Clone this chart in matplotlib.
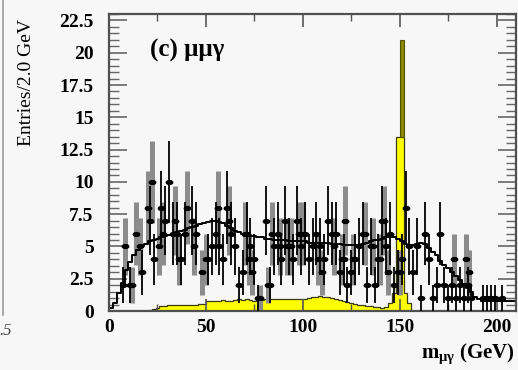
import numpy as np
import matplotlib
matplotlib.use("Agg")
import matplotlib.pyplot as plt
from matplotlib.lines import Line2D
from matplotlib.path import Path
from matplotlib.ticker import FuncFormatter, MultipleLocator
from matplotlib.transforms import Affine2D

plt.rcParams["mathtext.fontset"] = "custom"
plt.rcParams["mathtext.rm"] = "Liberation Serif:bold"
plt.rcParams["mathtext.it"] = "Liberation Serif:bold"

BG = "#f7f7f7"
SERIF = "Liberation Serif"

# 2 GeV bins from 0 to 210 GeV
edges = np.arange(0, 212, 2)
centers = edges[:-1] + 1

# data, first set (thin black error bars)
black_x = [7, 11, 17, 21, 23, 27, 29, 31, 33, 35, 37, 39, 43, 45, 51, 53, 55, 57,
           59, 61, 63, 65, 67, 69, 71, 73, 75, 77, 81, 83, 85, 87, 89, 91, 93, 95,
           97, 99, 101, 103, 105, 107, 109, 111, 113, 115, 117, 119, 121, 123, 125,
           127, 129, 131, 133, 135, 137, 139, 141, 143, 145, 147, 149, 151, 153,
           155, 157, 159, 161, 163, 165, 167, 169, 171, 173, 175, 177, 179, 181,
           183, 185, 187, 193, 195, 197, 199, 203]
black_n = [2, 2, 3, 7, 4, 8, 7, 10, 6, 6, 4, 6, 7, 6, 4, 5, 6, 5,
           4, 8, 6, 5, 2, 3, 6, 5, 4, 1, 7, 2, 5, 6, 4, 7, 5, 4,
           7, 5, 6, 4, 5, 6, 5, 4, 7, 6, 6, 3, 4, 2, 3,
           4, 5, 6, 2, 5, 2, 4, 7, 5, 6, 2, 3, 4, 8,
           5, 3, 5, 1, 6, 4, 1, 2, 6, 2, 1, 2, 1, 2,
           1, 2, 1, 1, 1, 1, 1, 1]

# data, second set (broad grey error bars)
gray_x = [8, 12, 14, 16, 20, 22, 26, 28, 34, 36, 40, 44, 48, 50, 56, 62, 70, 72,
          74, 78, 82, 84, 88, 92, 94, 98, 100, 108, 110, 116, 120, 122, 126, 132,
          136, 140, 142, 144, 150, 178, 184, 186]
gray_n = [5, 2, 6, 5, 8, 10, 5, 6, 7, 4, 8, 5, 3, 4, 8, 7, 6, 4,
          3, 1, 2, 6, 5, 5, 5, 6, 6, 4, 3, 5, 4, 7, 4, 6,
          5, 4, 7, 3, 3, 4, 4, 3]

# background fit per bin
fit = [0.2, 0.6, 1.4, 2.2, 3.2, 3.8, 4.3, 4.7, 5.0, 5.2, 5.4, 5.5, 5.6, 5.7, 5.8,
       5.9, 6.0, 6.1, 6.2, 6.3, 6.4, 6.5, 6.6, 6.7, 6.8, 6.9, 7.0, 7.0, 6.9, 6.8,
       6.6, 6.4, 6.2, 6.1, 6.0, 5.9, 5.8, 5.8, 5.7, 5.7, 5.6, 5.6, 5.5, 5.5, 5.5,
       5.5, 5.4, 5.4, 5.4, 5.4, 5.4, 5.3, 5.3, 5.3, 5.3, 5.3, 5.3, 5.2, 5.2, 5.2,
       5.1, 5.1, 5.1, 5.1, 5.1, 5.2, 5.3, 5.4, 5.5, 5.5, 5.6, 5.7, 5.7, 5.7, 5.6,
       5.4, 5.2, 5.1, 5.1, 5.2, 5.3, 5.2, 4.9, 4.6, 4.3, 3.9, 3.6, 3.3, 3.0, 2.7,
       2.4, 2.1, 1.8, 1.5, 1.1, 0.9, 0.8, 0.8, 0.8, 0.8, 0.8, 0.8, 0.8, 0.8, 0.8]

# signal expectation per bin
signal = [0, 0, 0, 0, 0, 0, 0, 0, 0, 0, 0.05, 0.15, 0.2, 0.35, 0.4,
          0.45, 0.45, 0.5, 0.5, 0.45, 0.5, 0.5, 0.5, 0.55, 0.55, 0.8, 0.75, 0.8, 0.8, 0.85,
          0.8, 0.8, 0.85, 0.9, 0.85, 0.9, 0.85, 0.8, 0.9, 0.85, 0.9, 0.95, 0.9, 0.9, 0.95,
          0.9, 0.95, 0.9, 0.9, 0.95, 0.95, 1.0, 1.05, 1.1, 1.15, 1.1, 1.1, 1.0, 0.95, 0.85,
          0.8, 0.7, 0.6, 0.55, 0.5, 0.45, 0.4, 0.35, 0.3, 0.3, 0.25, 0.3, 0.6, 1.4, 13.5,
          13.5, 1.4, 0.6, 0, 0, 0, 0, 0, 0, 0, 0, 0, 0, 0, 0,
          0, 0, 0, 0, 0, 0, 0, 0, 0, 0, 0, 0, 0, 0, 0]
peak_bin = (150, 152)
peak_top = 21.0

fig = plt.figure(figsize=(5.18, 3.70), dpi=100, facecolor=BG)
ax = fig.add_axes([109 / 518, 1 - 311 / 370, 407 / 518, 297 / 370])
ax.set_facecolor(BG)

# signal histogram with the narrow peak on top
ax.stairs(signal, edges, fill=True, color="#ffff00", zorder=1)
ax.stairs(signal, edges, color="#3a3a10", lw=0.9, zorder=1.1)
ax.bar((peak_bin[0] + peak_bin[1]) / 2, peak_top - 13.5, bottom=13.5,
       width=peak_bin[1] - peak_bin[0], color="#8a8800", edgecolor="#555500",
       lw=0.8, zorder=1.2)

# flattened ellipse for the data markers
blob = Path.unit_circle().transformed(Affine2D().scale(1.0, 0.6))

ax.errorbar(gray_x, gray_n, yerr=np.sqrt(gray_n), fmt="none", ecolor="#8c8c8c",
            elinewidth=3.6, capsize=0, zorder=2)
ax.errorbar(black_x, black_n, yerr=np.sqrt(black_n), fmt="none", ecolor="black",
            elinewidth=1.3, capsize=0, zorder=3)
ax.plot(gray_x, gray_n, ls="none", marker=blob, ms=4.6, color="black", zorder=4)
ax.plot(black_x, black_n, ls="none", marker=blob, ms=4.6, color="black", zorder=4)

ax.plot(centers, fit, drawstyle="steps-mid", color="black", lw=1.4, zorder=5)

ax.set_xlim(0, 210)
ax.set_ylim(0, 23)

ax.xaxis.set_major_locator(MultipleLocator(50))
ax.xaxis.set_minor_locator(MultipleLocator(25))
ax.yaxis.set_major_locator(MultipleLocator(2.5))
ax.yaxis.set_minor_locator(MultipleLocator(0.5))
ax.yaxis.set_major_formatter(FuncFormatter(lambda v, p: "%g" % v))

for side in ["left", "right", "top", "bottom"]:
    ax.spines[side].set_linewidth(1.6)
    ax.spines[side].set_color("#505050")

ax.tick_params(axis="y", which="major", direction="in", length=13, width=1.2,
               left=True, right=True, color="#666666", pad=11)
ax.tick_params(axis="y", which="minor", direction="in", length=7, width=1.0,
               left=True, right=True, color="#666666")
ax.tick_params(axis="x", which="major", direction="in", length=9, width=1.2,
               top=True, bottom=True, color="#555555", pad=6)
ax.tick_params(axis="x", which="minor", direction="in", length=5, width=1.0,
               top=True, bottom=True, color="#555555")
for lab in ax.get_xticklabels() + ax.get_yticklabels():
    lab.set_fontfamily(SERIF)
    lab.set_fontweight("bold")
    lab.set_fontsize(14)

fig.text(27 / 518, 1 - 83 / 370, "Entries/2.0 GeV", rotation=90, ha="center",
         va="center", fontsize=14, family=SERIF)
fig.text(150 / 518, 1 - 50 / 370, "(c) μμγ", ha="left", va="center",
         fontsize=18, fontweight="bold", family=SERIF)
fig.text(515 / 518, 1 - 358 / 370, r"m$_{\mu\gamma}$ (GeV)", ha="right",
         va="baseline", fontsize=15, fontweight="bold", family=SERIF)

# edge of the neighbouring panel
fig.add_artist(Line2D([2.5 / 518, 2.5 / 518], [1.0, 1 - 315 / 370],
                      transform=fig.transFigure, color="#9a9a9a", lw=1.2))
fig.text(-1 / 518, 1 - 331 / 370, ".5", ha="left", va="center", fontsize=12,
         style="italic", family=SERIF, color="#444444")

fig.savefig("out.png", dpi=100, facecolor=BG)
